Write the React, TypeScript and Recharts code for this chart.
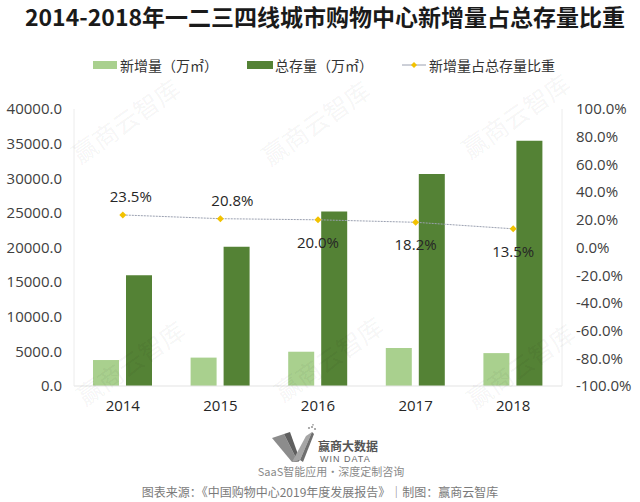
import React from 'react';
import { ComposedChart, Bar, Line, XAxis, YAxis, LabelList } from 'recharts';

const years = ['2014', '2015', '2016', '2017', '2018'];
const newAdded = [3750, 4100, 4950, 5500, 4750];
const totalStock = [16000, 20100, 25200, 30600, 35400];
const shareRatio = [0.235, 0.208, 0.2, 0.182, 0.135];
const leftTicks = [0, 5000, 10000, 15000, 20000, 25000, 30000, 35000, 40000];
const rightTicks = [-1, -0.8, -0.6, -0.4, -0.2, 0, 0.2, 0.4, 0.6, 0.8, 1];

const seriesNames = ['新增量（万㎡）', '总存量（万㎡）', '新增量占总存量比重'];
const title = '2014-2018年一二三四线城市购物中心新增量占总存量比重';
const source = '图表来源：《中国购物中心2019年度发展报告》｜制图：赢商云智库';

const data = years.map((y, i) => ({
  year: y,
  newAdded: newAdded[i],
  totalStock: totalStock[i],
  ratio: shareRatio[i],
}));

const LIGHT = '#a9d08e';
const DARK = '#548235';
const DOT = '#f2c200';
const TXT = '#404040';
const FONT = '"Open Sans", "Noto Sans CJK SC", sans-serif';
const CJK = '"Noto Sans CJK SC", sans-serif';

const Diamond = (props: any) => {
  const { cx, cy } = props;
  if (cx == null || cy == null) return null;
  const r = 3.5;
  return <path d={`M${cx},${cy - r} L${cx + r},${cy} L${cx},${cy + r} L${cx - r},${cy} Z`} fill={DOT} />;
};

const RatioLabel = (props: any) => {
  const { x, y, value, index } = props;
  const above = index < 2;
  const dx = index === 0 ? 8 : index === 1 ? 12 : 0;
  return (
    <text
      x={x + dx}
      y={above ? y - 17 : y + 24}
      textAnchor="middle"
      dominantBaseline="middle"
      fontSize={15}
      fontFamily={FONT}
      fill="#262626"
    >
      {(value * 100).toFixed(1) + '%'}
    </text>
  );
};

const watermarks = [
  [125, 120], [315, 122], [515, 115],
  [130, 362], [328, 358], [520, 365],
];

const Logo = () => (
  <svg width={640} height={60} style={{ position: 'absolute', left: 0, top: 424 }}>
    <g>
      <polygon points="272,14 284,10 298,38 292,38" fill="#8c8c8c" />
      <polygon points="284,10 290,8 300,36 298,38" fill="#5f5f5f" />
      <polygon points="292,38 300,36 312,8 306,12" fill="#a6a6a6" />
      <polygon points="300,36 303,38 314,10 312,8" fill="#6e6e6e" />
      <circle cx={309} cy={4} r={1.1} fill="#999" />
      <circle cx={312} cy={3} r={1.1} fill="#999" />
      <circle cx={315} cy={5} r={1.1} fill="#999" />
      <circle cx={313} cy={0.8} r={0.9} fill="#aaa" />
    </g>
    <text x={318} y={27} fontSize={12} fontWeight="bold" fill="#555" fontFamily={CJK}>赢商大数据</text>
    <text x={320} y={37.5} fontSize={9} fill="#666" fontFamily='"Liberation Sans", sans-serif' letterSpacing={1}>WIN DATA</text>
    <text x={331} y={52} fontSize={11} fill="#8a8a8a" textAnchor="middle" fontFamily={CJK}>SaaS智能应用·深度定制咨询</text>
  </svg>
);

export default function App() {
  return (
    <div style={{ position: 'absolute', left: 0, top: 0, width: 640, height: 502, background: '#fff', overflow: 'hidden' }}>
      <div
        style={{
          position: 'absolute', left: 0, top: 0, width: 640, boxSizing: 'border-box', paddingLeft: 10,
          textAlign: 'center', whiteSpace: 'nowrap',
          fontFamily: CJK, fontWeight: 'bold', fontSize: 23, color: '#1a1a1a', lineHeight: '32px',
        }}
      >
        {title}
      </div>
      <div style={{ position: 'absolute', top: 56, left: 93, height: 18, display: 'flex', alignItems: 'center', fontFamily: CJK, fontSize: 14, color: '#333' }}>
        <span style={{ display: 'inline-block', width: 24, height: 8, background: LIGHT, marginRight: 3 }} />
        <span style={{ width: 127 }}>{seriesNames[0]}</span>
        <span style={{ display: 'inline-block', width: 26, height: 8, background: DARK, marginRight: 2 }} />
        <span style={{ width: 127 }}>{seriesNames[1]}</span>
        <svg width={24} height={10} style={{ marginRight: 3 }}>
          <line x1={0} y1={5} x2={24} y2={5} stroke="#9aa0b0" strokeWidth={1} />
          <path d="M12,2 L15,5 L12,8 L9,5 Z" fill={DOT} />
        </svg>
        <span>{seriesNames[2]}</span>
      </div>
      <div style={{ position: 'absolute', left: 0, top: 0 }}>
        <ComposedChart
          width={640}
          height={502}
          data={data}
          margin={{ top: 109, bottom: 86, left: 0, right: 0 }}
          barGap={7}
        >
          <XAxis
            dataKey="year"
            height={30}
            tickLine={false}
            axisLine={{ stroke: '#e3e3e3' }}
            tickSize={0}
            tickMargin={14}
            tick={{ fontSize: 15, fill: '#262626', fontFamily: FONT }}
          />
          <YAxis
            yAxisId="left"
            width={74}
            domain={[0, 40000]}
            ticks={leftTicks}
            interval={0}
            tickFormatter={(v: number) => v.toFixed(1)}
            tickLine={false}
            tickSize={0}
            tickMargin={12}
            axisLine={{ stroke: '#ececec' }}
            tick={{ fontSize: 15, fill: TXT, fontFamily: FONT }}
          />
          <YAxis
            yAxisId="right"
            orientation="right"
            width={78}
            domain={[-1, 1]}
            ticks={rightTicks}
            interval={0}
            tickFormatter={(v: number) => (v * 100).toFixed(1) + '%'}
            tickLine={false}
            tickSize={0}
            tickMargin={14}
            axisLine={{ stroke: '#ececec' }}
            tick={{ fontSize: 15, fill: TXT, fontFamily: FONT }}
          />
          <Bar yAxisId="left" dataKey="newAdded" fill={LIGHT} barSize={26} isAnimationActive={false} />
          <Bar yAxisId="left" dataKey="totalStock" fill={DARK} barSize={26} isAnimationActive={false} />
          <Line
            yAxisId="right"
            dataKey="ratio"
            stroke="#9aa0b0"
            strokeWidth={1}
            strokeDasharray="2 1"
            dot={<Diamond />}
            activeDot={false}
            isAnimationActive={false}
          >
            <LabelList dataKey="ratio" content={<RatioLabel />} />
          </Line>
        </ComposedChart>
      </div>
      {watermarks.map(([x, y], i) => (
        <div
          key={i}
          style={{
            position: 'absolute', left: x - 70, top: y - 14, width: 140, textAlign: 'center',
            transform: 'rotate(-35deg)', fontFamily: CJK, fontSize: 25, color: 'rgba(0,0,0,0.055)',
            pointerEvents: 'none', lineHeight: '28px',
          }}
        >
          赢商云智库
        </div>
      ))}
      <Logo />
      <div style={{ position: 'absolute', left: 0, width: 640, top: 483, textAlign: 'center', fontFamily: CJK, fontSize: 12, color: '#7a7a7a', lineHeight: '18px' }}>
        {source}
      </div>
    </div>
  );
}
